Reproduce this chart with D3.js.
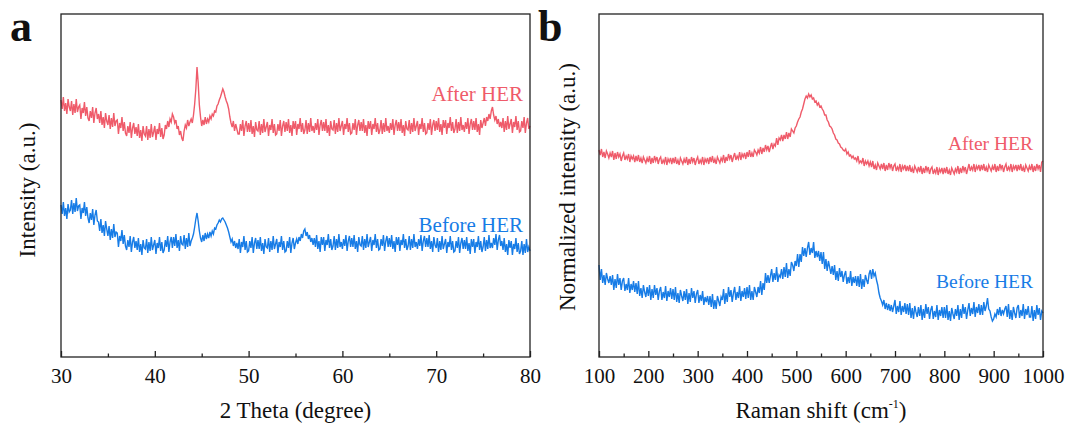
<!DOCTYPE html>
<html>
<head>
<meta charset="utf-8">
<title>XRD and Raman, before / after HER</title>
<script src="https://d3js.org/d3.v7.min.js"></script>
<style>
  body { margin: 0; background: #fff; }
  svg text { font-family: "Liberation Serif", "Times New Roman", serif; fill: #111; }
</style>
</head>
<body>
<svg id="chart" width="1067" height="426"></svg>
<script>
// ---- data (intensities in a.u.) ----
// XRD: 2 theta sampled every 0.125 degree, 30 -> 80 (one row per degree)
const xrdTheta = d3.range(401).map(i => 30 + i * 0.125);
const xrdAfter = [
  255,246,258,244,252,241,256,248, 244,254,240,251,242,256,243,248,
  250,236,247,242,253,239,248,237, 234,244,237,248,232,242,247,236,
  241,232,244,230,238,227,242,234, 230,240,226,237,228,242,229,234,
  235,221,232,227,238,224,233,222, 219,229,222,233,217,227,232,221,
  228,219,231,217,225,214,229,221, 219,229,215,226,217,231,218,223,
  229,215,226,221,232,218,227,216, 220,230,226,234,228,236,233,241,
  238,232,235,226,229,220,224,217, 214,224,230,227,235,229,233,236,
  232,240,251,266,288,272,250,238, 229,235,230,238,231,236,233,239,
  236,241,239,244,243,249,251,255, 258,262,266,263,258,254,251,246,
  238,232,228,234,224,231,226,221, 221,231,224,235,219,229,234,223,
  232,223,235,221,229,218,233,225, 224,234,220,231,222,236,223,228,
  233,219,230,225,236,222,231,220, 221,231,224,235,219,229,234,223,
  233,224,236,222,230,219,234,226, 234,220,231,226,237,223,232,221,
  225,235,221,232,223,237,224,229, 222,232,225,236,220,230,235,224,
  233,224,236,222,230,219,234,226, 225,235,221,232,223,237,224,229,
  234,220,231,226,237,223,232,221, 222,232,225,236,220,230,235,224,
  233,224,236,222,230,219,234,226, 234,220,231,226,237,223,232,221,
  225,235,221,232,223,237,224,229, 222,232,225,236,220,230,235,224,
  233,224,236,222,230,219,234,226, 225,235,221,232,223,237,224,229,
  234,220,231,226,237,223,232,221, 222,232,225,236,220,230,235,224,
  234,225,237,223,231,220,235,227, 235,221,232,227,238,224,233,222,
  226,236,222,233,224,238,225,230, 223,233,226,237,221,231,236,225,
  234,225,237,223,231,220,235,227, 232,237,229,238,234,241,236,244,
  248,240,235,239,231,236,228,233, 227,237,223,234,225,239,226,231,
  236,222,233,228,239,225,234,223, 224,234,227,238,222,232,237,226,
  229
];
const xrdBefore = [
  150,141,153,139,147,136,151,143, 145,155,141,152,143,157,144,149,
  150,136,147,142,153,139,148,137, 132,142,135,146,130,140,145,134,
  133,124,136,122,130,119,134,126, 119,129,115,126,117,131,118,123,
  122,108,119,114,125,111,120,109, 105,115,108,119,103,113,118,107,
  114,105,117,103,111,100,115,107, 106,116,102,113,104,118,105,110,
  115,101,112,107,118,104,113,102, 105,115,108,119,103,113,118,107,
  118,109,121,107,115,104,119,111, 110,120,106,117,108,122,109,114,
  117,121,128,136,142,134,124,117, 113,120,114,122,116,121,117,123,
  119,124,121,127,126,130,132,135, 133,136,137,135,133,130,127,123,
  118,113,116,109,114,107,112,106, 116,102,113,108,119,105,114,103,
  104,114,107,118,102,112,117,106, 115,106,118,104,112,101,116,108,
  107,117,103,114,105,119,106,111, 116,102,113,108,119,105,114,103,
  104,114,107,118,102,112,117,106, 112,116,111,118,114,121,117,124,
  126,119,123,116,120,113,117,110, 117,108,120,106,114,103,118,110,
  118,104,115,110,121,107,116,105, 109,119,105,116,107,121,108,113,
  106,116,109,120,104,114,119,108, 117,108,120,106,114,103,118,110,
  109,119,105,116,107,121,108,113, 118,104,115,110,121,107,116,105,
  106,116,109,120,104,114,119,108, 117,108,120,106,114,103,118,110,
  118,104,115,110,121,107,116,105, 109,119,105,116,107,121,108,113,
  106,116,109,120,104,114,119,108, 117,108,120,106,114,103,118,110,
  107,117,103,114,105,119,106,111, 116,102,113,108,119,105,114,103,
  104,114,107,118,102,112,117,106, 115,106,118,104,112,101,116,108,
  116,102,113,108,119,105,114,103, 108,118,104,115,106,120,107,112,
  107,117,110,121,105,115,120,109, 114,105,117,103,111,100,115,107,
  114,100,111,106,117,103,112,101, 104,114,100,111,102,116,103,108,
  104
];
// Raman: shift sampled every 2.5 cm-1, 100 -> 1000 (one row per 25 cm-1)
const ramanShift = d3.range(361).map(i => 100 + i * 2.5);
const ramanAfter = [
  205,200,206,198,203,197,204,201,197,202, 198,204,195,202,196,203,198,201,194,199,
  202,195,199,196,201,193,199,196,199,193, 199,194,200,193,197,192,198,195,192,197,
  193,199,191,197,192,199,194,198,191,196, 198,191,195,192,198,190,196,193,197,191,
  197,192,198,191,195,190,197,194,191,196, 192,198,190,196,191,198,193,197,190,195,
  198,191,195,192,198,190,196,193,197,191, 198,193,199,192,196,191,198,195,192,197,
  194,200,192,198,194,201,196,200,193,198, 202,195,199,196,203,195,201,198,202,196,
  203,198,205,198,202,198,205,203,200,205, 202,208,201,207,203,210,205,209,203,208,
  212,206,211,209,217,210,217,215,220,214, 220,216,223,216,222,218,226,224,222,227,
  229,233,236,238,243,246,251,256,259,257, 261,258,260,256,257,253,254,250,252,248,
  249,246,244,240,240,235,233,229,228,226, 222,220,216,215,212,211,208,207,205,204,
  206,201,203,199,200,197,199,196,197,194, 199,192,194,192,197,189,194,191,194,189,
  193,188,194,186,190,185,192,189,186,191, 186,192,184,190,185,192,187,191,184,189,
  191,184,188,185,191,183,189,186,190,184, 189,184,190,183,187,182,189,186,183,188,
  183,189,181,187,182,189,184,188,181,186, 188,181,185,182,188,180,186,183,187,181,
  187,182,188,181,185,180,187,184,181,186, 183,189,181,187,182,189,184,188,181,186,
  191,184,188,185,191,183,189,186,190,184, 190,185,191,184,188,183,190,187,184,189,
  185,191,183,189,184,191,186,190,183,188, 191,184,188,185,191,183,189,186,190,184,
  190,185,191,184,188,183,190,187,184,189, 185,191,183,189,184,191,186,190,183,193,
  194
];
const ramanBefore = [
  90,75,86,72,80,70,82,76,72,79,       70,80,65,76,67,81,70,77,65,74,
  77,64,71,65,77,62,71,65,74,63,       72,61,74,59,67,57,70,63,58,68,
  59,70,55,66,57,70,60,67,55,64,       68,55,63,57,69,54,64,58,67,56,
  66,55,68,53,62,52,65,59,54,64,       55,66,51,62,53,67,57,64,52,61,
  65,52,60,54,64,50,58,53,59,50,       59,48,61,46,55,46,59,54,49,58,
  55,66,51,62,53,68,58,65,53,62,       68,55,63,57,69,54,64,58,67,56,
  68,57,70,55,64,55,68,63,58,68,       62,74,60,72,65,82,72,80,72,79,
  86,73,82,75,88,73,80,78,86,76,       88,78,92,77,86,79,93,90,84,94,
  89,101,88,101,93,108,99,107,98,107,  113,100,107,102,113,97,104,98,104,94,
  103,91,103,86,96,84,94,88,81,89,     80,90,75,84,74,87,78,84,73,80,
  84,71,78,72,84,69,78,72,79,69,       79,68,81,66,76,68,80,75,71,81,
  85,76,86,79,82,75,70,62,57,54,       50,55,46,52,45,51,44,50,43,49,
  55,41,49,43,54,40,49,43,52,41,       51,40,52,37,47,36,49,43,38,48,
  39,50,35,46,37,51,41,48,36,45,       49,36,44,38,50,35,45,39,48,37,
  48,37,50,35,44,34,47,41,36,46,       39,50,35,46,37,51,41,48,36,45,
  52,39,47,41,53,38,48,42,51,40,       50,40,53,44,49,57,46,44,38,34,
  36,41,38,46,40,48,39,45,41,46,       49,38,51,36,45,35,48,42,37,47,
  50,37,45,39,51,36,46,40,49,38,       38,49,34,45,36,50,40,47,35,44,
  42
];
const xrdTicks = [30, 40, 50, 60, 70, 80];
const xrdMinor = [35, 45, 55, 65, 75];
const ramanTicks = [100, 200, 300, 400, 500, 600, 700, 800, 900, 1000];
const ramanMinor = [150, 250, 350, 450, 550, 650, 750, 850, 950];
const seriesNames = ["After HER", "Before HER"];

const RED = "#ef5b6a", BLUE = "#177ce6";

const svg = d3.select("#chart");

function panel(o) {
  const x = d3.scaleLinear().domain(o.xDomain).range([o.left, o.right]);
  const y = d3.scaleLinear().domain([-2, 341]).range([o.bottom, o.top]);
  const g = svg.append("g");

  // curves
  const line = d3.line().x(d => x(d[0])).y(d => y(d[1]));
  g.append("path").datum(o.xs.map((v, i) => [v, o.after[i]]))
    .attr("d", line).attr("fill", "none").attr("stroke", RED).attr("stroke-width", 1.4);
  g.append("path").datum(o.xs.map((v, i) => [v, o.before[i]]))
    .attr("d", line).attr("fill", "none").attr("stroke", BLUE).attr("stroke-width", 1.4);

  // frame
  g.append("rect").attr("x", o.left).attr("y", o.top)
    .attr("width", o.right - o.left).attr("height", o.bottom - o.top)
    .attr("fill", "none").attr("stroke", "#222").attr("stroke-width", 1.3);

  // bottom axis, ticks pointing inward
  const ax = g.append("g").attr("transform", "translate(0," + o.bottom + ")")
    .call(d3.axisBottom(x).tickValues(o.ticks).tickSize(-6).tickPadding(11).tickFormat(d3.format("d")));
  ax.select(".domain").remove();
  ax.selectAll("line").attr("stroke", "#222").attr("stroke-width", 1.3);
  ax.selectAll("text").style("font-size", "21px").attr("fill", "#111")
    .style("font-family", '"Liberation Serif", serif');
  const mx = g.append("g").attr("transform", "translate(0," + o.bottom + ")")
    .call(d3.axisBottom(x).tickValues(o.minor).tickSize(-3.5).tickFormat(""));
  mx.select(".domain").remove();
  mx.selectAll("line").attr("stroke", "#222").attr("stroke-width", 1.3);

  // axis titles
  const xt = g.append("text").attr("x", (o.left + o.right) / 2).attr("y", 418)
    .attr("text-anchor", "middle").style("font-size", "23px").text(o.xTitle);
  if (o.sup) {
    xt.append("tspan").attr("dy", -10).style("font-size", "12px").text(o.sup);
    xt.append("tspan").attr("dy", 10).text(")");
  }
  g.append("text")
    .attr("transform", "translate(" + o.yTitleX + "," + o.yTitleY + ") rotate(-90)")
    .attr("text-anchor", "middle").style("font-size", "23px").text(o.yTitle);

  // series labels
  g.append("text").attr("x", o.labelX).attr("y", o.afterY).attr("text-anchor", "end")
    .style("fill", RED).style("font-size", o.labelSize).text(seriesNames[0]);
  g.append("text").attr("x", o.labelX).attr("y", o.beforeY).attr("text-anchor", "end")
    .style("fill", BLUE).style("font-size", o.labelSize).text(seriesNames[1]);

  // panel letter
  g.append("text").attr("x", o.letterX).attr("y", 41).style("font-size", "44px")
    .style("font-weight", "bold").text(o.letter);
}

panel({
  left: 61, right: 530, top: 14, bottom: 357,
  xDomain: [30, 80], xs: xrdTheta, after: xrdAfter, before: xrdBefore,
  ticks: xrdTicks, minor: xrdMinor,
  xTitle: "2 Theta (degree)", yTitle: "Intensity (a.u.)", yTitleX: 35, yTitleY: 190,
  labelX: 523, afterY: 101, beforeY: 232, labelSize: "21px",
  letter: "a", letterX: 10
});

panel({
  left: 599, right: 1043, top: 14, bottom: 357,
  xDomain: [100, 1000], xs: ramanShift, after: ramanAfter, before: ramanBefore,
  ticks: ramanTicks, minor: ramanMinor,
  xTitle: "Raman shift (cm", sup: "-1", yTitle: "Normalized intensity (a.u.)", yTitleX: 575, yTitleY: 187,
  labelX: 1033, afterY: 150, beforeY: 288, labelSize: "19.5px",
  letter: "b", letterX: 538
});
</script>
</body>
</html>
